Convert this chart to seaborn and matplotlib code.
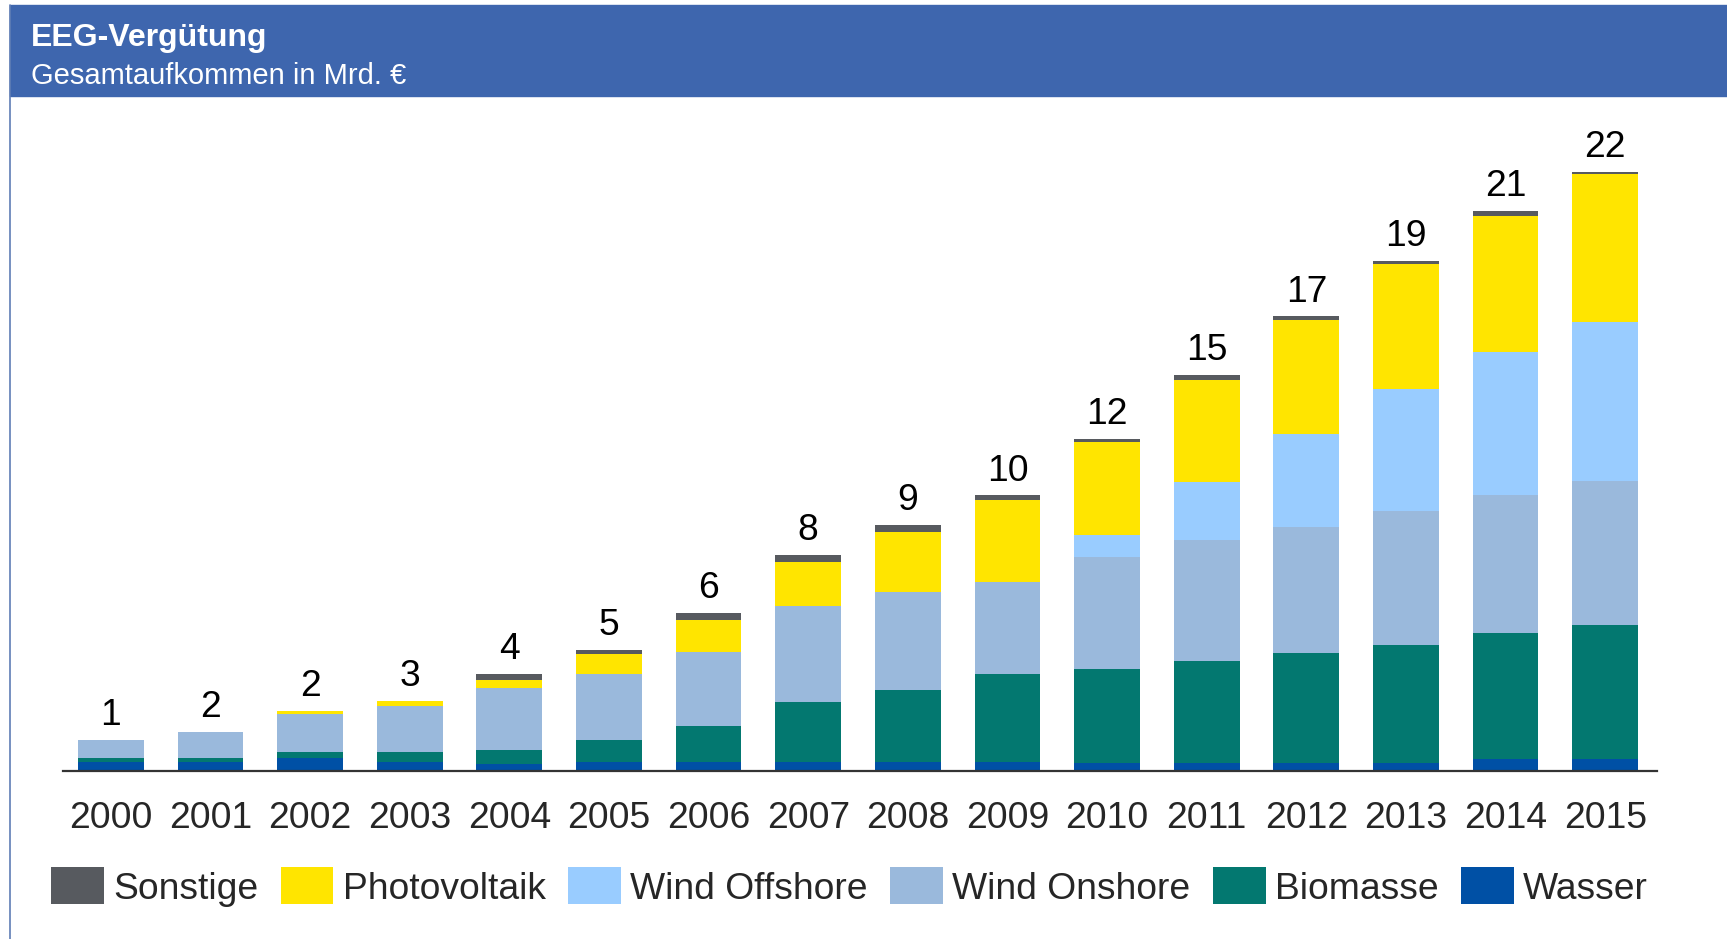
import numpy as np
import pandas as pd
import matplotlib
matplotlib.use("Agg")
import matplotlib.pyplot as plt
import seaborn as sns
from matplotlib.patches import Patch, Rectangle
from matplotlib.lines import Line2D

# data (Mrd. EUR)
years = [str(y) for y in range(2000, 2016)]
wasser = [0.32, 0.32, 0.47, 0.32, 0.25, 0.32, 0.32, 0.32, 0.32, 0.32, 0.31, 0.31, 0.31, 0.31, 0.44, 0.44]
biomasse = [0.15, 0.15, 0.22, 0.37, 0.51, 0.81, 1.32, 2.21, 2.65, 3.24, 3.45, 3.75, 4.04, 4.33, 4.65, 4.94]
onshore = [0.66, 0.96, 1.40, 1.69, 2.28, 2.43, 2.72, 3.53, 3.60, 3.38, 4.12, 4.42, 4.63, 4.93, 5.07, 5.30]
offshore = [0, 0, 0, 0, 0, 0, 0, 0, 0, 0, 0.81, 2.15, 3.41, 4.49, 5.24, 5.81]
photovoltaik = [0, 0, 0.11, 0.18, 0.29, 0.74, 1.18, 1.62, 2.21, 3.01, 3.39, 3.74, 4.18, 4.57, 5.00, 5.46]
sonstige = [0, 0, 0, 0, 0.23, 0.15, 0.26, 0.26, 0.26, 0.18, 0.11, 0.18, 0.14, 0.11, 0.19, 0.07]
total_labels = ["1", "2", "2", "3", "4", "5", "6", "8", "9", "10", "12", "15", "17", "19", "21", "22"]

series = ["Wasser", "Biomasse", "Wind Onshore", "Wind Offshore", "Photovoltaik", "Sonstige"]
colors = {
    "Wasser": "#0050A5",
    "Biomasse": "#037870",
    "Wind Onshore": "#9AB9DC",
    "Wind Offshore": "#99CCFF",
    "Photovoltaik": "#FFE500",
    "Sonstige": "#575A5F",
}

df = pd.DataFrame({
    "Jahr": years,
    "Wasser": wasser,
    "Biomasse": biomasse,
    "Wind Onshore": onshore,
    "Wind Offshore": offshore,
    "Photovoltaik": photovoltaik,
    "Sonstige": sonstige,
})
cum = df[series].cumsum(axis=1)
cum["Jahr"] = df["Jahr"]

sns.set_theme(style="white")
plt.rcParams["font.family"] = ["Liberation Sans", "DejaVu Sans"]
fs = 26.8

fig = plt.figure(figsize=(17.27, 9.39), dpi=100)
ax = fig.add_axes([63 / 1727, 1 - 771 / 939, 1594 / 1727, 680 / 939])
ax.patch.set_visible(False)

# stacked bars: draw cumulative totals from the top layer down
for name in reversed(series):
    sns.barplot(data=cum, x="Jahr", y=name, color=colors[name], width=0.66,
                saturation=1, ax=ax, linewidth=0)

ax.set_xlim(-0.48, 15.52)
ax.set_ylim(0, 25)
ax.set_xlabel("")
ax.set_ylabel("")
ax.set_yticks([])
ax.tick_params(axis="x", length=0, pad=21.5, labelsize=fs)
for s in ["left", "right", "top"]:
    ax.spines[s].set_visible(False)
ax.spines["bottom"].set_color("#333333")
ax.spines["bottom"].set_linewidth(1.6)

totals = cum["Sonstige"].values
for i, (t, lab) in enumerate(zip(totals, total_labels)):
    ax.annotate(lab, (i, t), xytext=(0, 5), textcoords="offset points",
                ha="center", va="bottom", fontsize=fs, color="black")

# header band
fig.add_artist(Rectangle((10 / 1727, 1 - 96 / 939), 1 - 10 / 1727, 91 / 939,
                         transform=fig.transFigure, color="#3E66AE", zorder=0))
fig.add_artist(Line2D([10 / 1727, 10 / 1727], [0, 1 - 5 / 939], transform=fig.transFigure,
                      color="#5F7DB5", linewidth=1.2))
fig.text(31 / 1727, 1 - 38 / 939, "EEG-Vergütung", color="white", fontsize=23,
         fontweight="bold", va="center", ha="left")
fig.text(31 / 1727, 1 - 76 / 939, "Gesamtaufkommen in Mrd. €", color="white", fontsize=21,
         va="center", ha="left")

legend_order = ["Sonstige", "Photovoltaik", "Wind Offshore", "Wind Onshore", "Biomasse", "Wasser"]
handles = [Patch(facecolor=colors[n], edgecolor="none", label=n) for n in legend_order]
fig.legend(handles=handles, loc="center left", bbox_to_anchor=(51 / 1727, 1 - 887 / 939),
           ncol=6, frameon=False, fontsize=fs, handlelength=1.42, handleheight=1.15,
           handletextpad=0.25, columnspacing=0.6, borderaxespad=0, borderpad=0)

fig.savefig("out.png", dpi=100)
